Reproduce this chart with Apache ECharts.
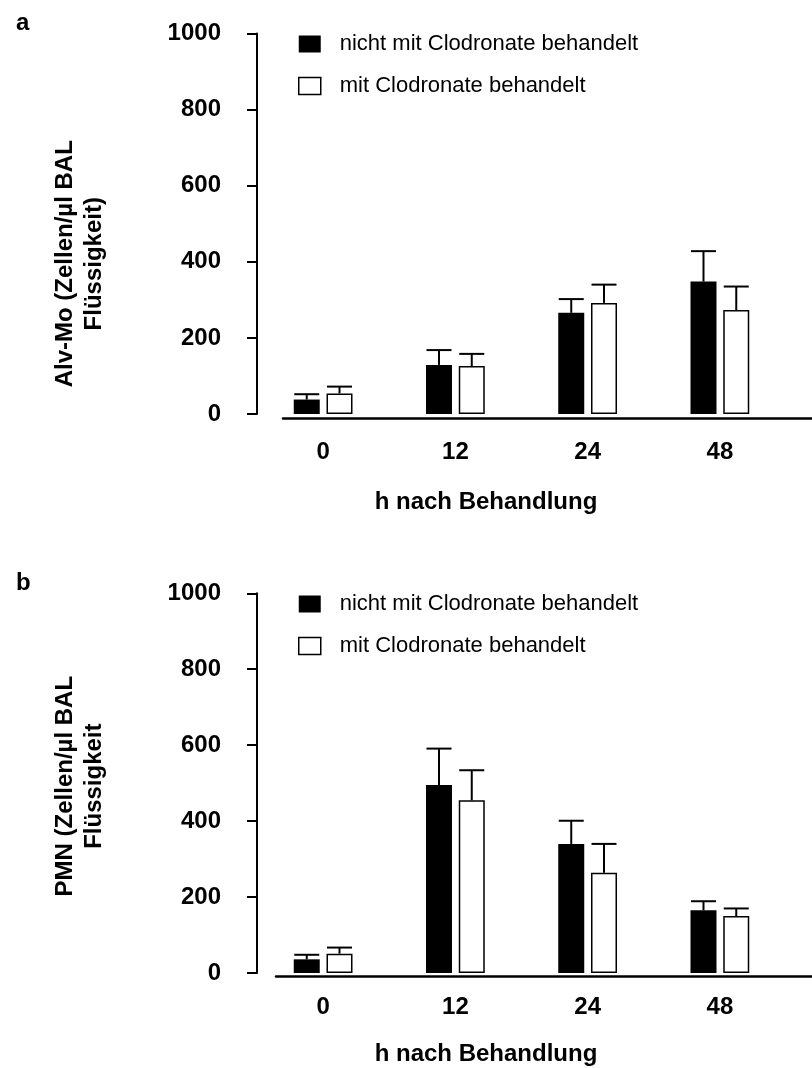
<!DOCTYPE html>
<html>
<head>
<meta charset="utf-8">
<title>Alv-Mo und PMN nach Clodronate-Behandlung</title>
<script src="https://cdn.jsdelivr.net/npm/echarts@6/dist/echarts.min.js"></script>
<style>
  html, body { margin: 0; padding: 0; background: #fff; }
  #chart { width: 812px; height: 1068px; }
</style>
</head>
<body>
<div id="chart"></div>
<script>
// Zeitpunkte (h nach Behandlung)
const categories = ['0', '12', '24', '48'];
const seriesNames = ['nicht mit Clodronate behandelt', 'mit Clodronate behandelt'];
const yTicks = [0, 200, 400, 600, 800, 1000];

// a: Alveolarmakrophagen (Zellen/µl BAL-Flüssigkeit), Mittelwert und Fehler
const alvNicht = [38, 129, 266, 348];
const alvNichtErr = [14, 39, 36, 80];
const alvMit = [54, 126, 292, 273];
const alvMitErr = [18, 32, 48, 62];

// b: PMN (Zellen/µl BAL-Flüssigkeit), Mittelwert und Fehler
const pmnNicht = [36, 495, 340, 165];
const pmnNichtErr = [12, 96, 61, 24];
const pmnMit = [51, 455, 264, 150];
const pmnMitErr = [16, 79, 76, 20];

const FONT = '"Liberation Sans", Arial, Helvetica, sans-serif';
const BAR_W = 26;
const BAR_GAP = 0.26;

const chart = echarts.init(document.getElementById('chart'), null, { renderer: 'canvas' });

// error bar drawn upward from the top of a bar, with a horizontal cap
function errorBarSeries(values, errors, xIdx, yIdx, side) {
  return {
    type: 'custom',
    xAxisIndex: xIdx,
    yAxisIndex: yIdx,
    z: 5,
    silent: true,
    data: values.map((v, i) => [i, v, errors[i]]),
    encode: { x: 0, y: 1 },
    renderItem: function (params, api) {
      const i = api.value(0), v = api.value(1), e = api.value(2);
      const base = api.coord([i, v]);
      const top = api.coord([i, v + e]);
      const cx = base[0] + side * BAR_W * (1 + BAR_GAP) / 2;
      const capHalf = 12.5;
      const style = { stroke: '#000', lineWidth: 2 };
      return {
        type: 'group',
        children: [
          { type: 'line', shape: { x1: cx, y1: base[1], x2: cx, y2: top[1] }, style: style },
          { type: 'line', shape: { x1: cx - capHalf, y1: top[1], x2: cx + capHalf, y2: top[1] }, style: style }
        ]
      };
    }
  };
}

function barSeries(name, values, xIdx, yIdx, filled) {
  return {
    name: name,
    type: 'bar',
    xAxisIndex: xIdx,
    yAxisIndex: yIdx,
    barWidth: BAR_W,
    barGap: (BAR_GAP * 100) + '%',
    data: values,
    itemStyle: filled
      ? { color: '#000', borderColor: '#000', borderWidth: 0 }
      : { color: '#fff', borderColor: '#000', borderWidth: 1.5 },
    emphasis: { disabled: true }
  };
}

// one panel = bar grid (category axis + y axis) + a baseline grid for the x-axis line
function panel(p) {
  const gi = p.index * 2;
  const grids = [
    { left: 257, width: 529, top: p.top, height: p.height },
    { left: p.baseLeft, right: 0, top: p.top, height: p.height + p.baseDrop }
  ];
  const xAxes = [
    {
      gridIndex: gi,
      type: 'category',
      data: categories,
      axisLine: { show: false },
      axisTick: { show: false },
      axisLabel: { color: '#000', fontSize: 24, fontWeight: 'bold', fontFamily: FONT, margin: p.labelMargin },
      name: 'h nach Behandlung',
      nameLocation: 'middle',
      nameGap: p.nameGap,
      nameTextStyle: { color: '#000', fontSize: 24, fontWeight: 'bold', fontFamily: FONT, padding: [0, 71, 0, 0] }
    },
    {
      gridIndex: gi + 1,
      type: 'value',
      min: 0, max: 1,
      axisLine: { show: true, lineStyle: { color: '#000', width: 2.5 } },
      axisTick: { show: false },
      axisLabel: { show: false },
      splitLine: { show: false }
    }
  ];
  const yAxes = [
    {
      gridIndex: gi,
      type: 'value',
      min: yTicks[0],
      max: yTicks[yTicks.length - 1],
      interval: yTicks[1] - yTicks[0],
      axisLine: { show: true, lineStyle: { color: '#000', width: 2 } },
      axisTick: { show: true, inside: false, length: 10, lineStyle: { color: '#000', width: 2 } },
      axisLabel: {
        color: '#000', fontSize: 24, fontWeight: 'bold', fontFamily: FONT, margin: 36,
        formatter: v => String(v)
      },
      splitLine: { show: false },
      name: p.yName,
      nameLocation: 'middle',
      nameRotate: 90,
      nameGap: 148,
      nameTextStyle: {
        color: '#000', fontSize: 24, fontWeight: 'bold', fontFamily: FONT,
        lineHeight: 29, align: 'center', padding: p.yNamePad
      }
    },
    {
      gridIndex: gi + 1,
      type: 'value',
      show: false,
      min: 0, max: 1,
      splitLine: { show: false }
    }
  ];
  const series = [
    barSeries(seriesNames[0], p.nicht, gi, gi, true),
    barSeries(seriesNames[1], p.mit, gi, gi, false),
    errorBarSeries(p.nicht, p.nichtErr, gi, gi, -1),
    errorBarSeries(p.mit, p.mitErr, gi, gi, 1)
  ];
  const legend = {
    orient: 'vertical',
    left: 298,
    top: p.legendTop,
    padding: 0,
    itemWidth: 22,
    itemHeight: 17,
    itemGap: 20,
    selectedMode: false,
    icon: 'rect',
    textStyle: { color: '#000', fontSize: 22, fontFamily: FONT, lineHeight: 22, padding: [0, 0, 0, 14] },
    data: [
      { name: seriesNames[0], itemStyle: { color: '#000', borderWidth: 0 } },
      { name: seriesNames[1], itemStyle: { color: '#fff', borderColor: '#000', borderWidth: 1.5 } }
    ]
  };
  const title = {
    text: p.letter,
    left: 11,
    top: p.letterTop,
    textStyle: { color: '#000', fontSize: 24, fontWeight: 'bold', fontFamily: FONT }
  };
  return { grids, xAxes, yAxes, series, legend, title };
}

const panels = [
  panel({
    index: 0, letter: 'a', letterTop: 6,
    top: 33.5, height: 380.5, baseLeft: 283, baseDrop: 4,
    labelMargin: 26, nameGap: 76, legendTop: 33,
    yName: 'Alv-Mo (Zellen/µl BAL\nFlüssigkeit)', yNamePad: [0, 80, 0, 0],
    nicht: alvNicht, nichtErr: alvNichtErr, mit: alvMit, mitErr: alvMitErr
  }),
  panel({
    index: 1, letter: 'b', letterTop: 566,
    top: 593.3, height: 379.7, baseLeft: 276, baseDrop: 3.5,
    labelMargin: 22, nameGap: 69, legendTop: 593,
    yName: 'PMN (Zellen/µl BAL\nFlüssigkeit', yNamePad: [0, 6, 0, 0],
    nicht: pmnNicht, nichtErr: pmnNichtErr, mit: pmnMit, mitErr: pmnMitErr
  })
];

const option = {
  animation: false,
  backgroundColor: '#fff',
  textStyle: { fontFamily: FONT },
  title: panels.map(p => p.title),
  legend: panels.map(p => p.legend),
  grid: panels.flatMap(p => p.grids),
  xAxis: panels.flatMap(p => p.xAxes),
  yAxis: panels.flatMap(p => p.yAxes),
  series: panels.flatMap(p => p.series)
};

chart.setOption(option);
</script>
</body>
</html>
